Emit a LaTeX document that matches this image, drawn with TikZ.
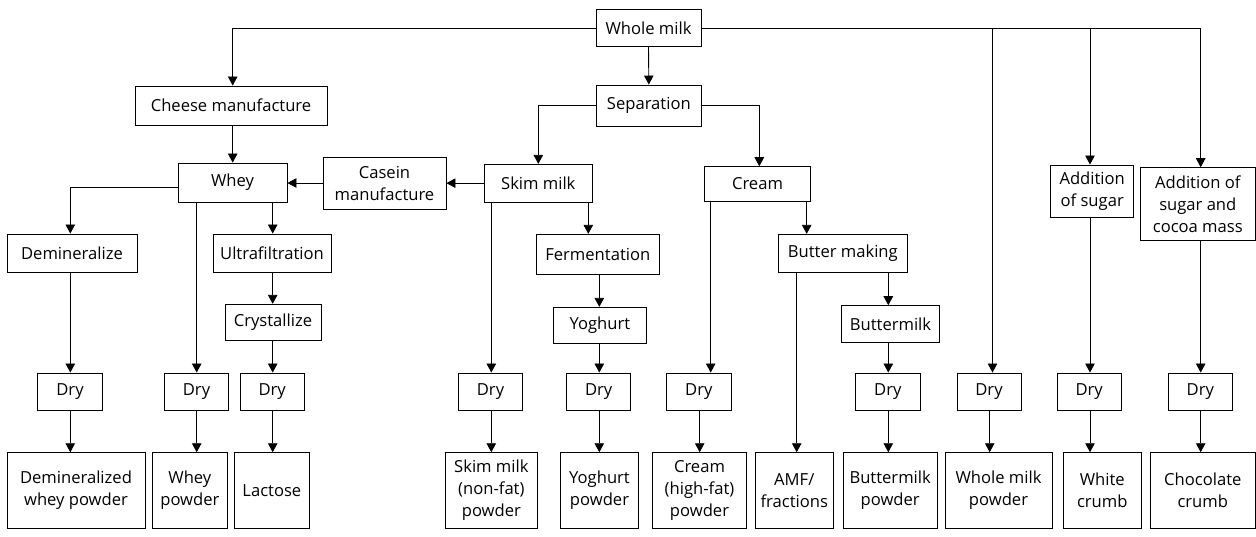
\documentclass[tikz,border=0pt]{standalone}
\usepackage{fontspec}
\setmainfont{Open Sans}
\usetikzlibrary{arrows.meta}
\newcommand\bx[6]{\node[box, minimum width={#4-#2}, minimum height={#5-#3}] (#1) at ({(#2+#4)/2},{(#3+#5)/2}) {#6};}
\begin{document}
\begin{tikzpicture}[x=1pt,y=-1pt,
  box/.style={draw, line width=0.9pt, inner sep=0pt, align=center, font=\fontsize{16.6}{22}\selectfont},
  arr/.style={line width=0.9pt, -{Triangle[width=9.5pt,length=9pt]}},
  ln/.style={line width=0.9pt}]
\useasboundingbox (0,0) rectangle (1256,537);
% column coordinates
\coordinate (kCh) at (232.7,0);
\coordinate (kDm) at (70.3,0);
\coordinate (kWp) at (196.7,0);
\coordinate (kUf) at (272.7,0);
\coordinate (kCr) at (759.3,0);
\coordinate (kSd) at (491.3,0);
\coordinate (kFe) at (588.3,0);
\coordinate (kYo) at (599.3,0);
\coordinate (kCd) at (710.7,0);
\coordinate (kCo) at (699.7,0);
\coordinate (kBm) at (806.7,0);
\coordinate (kAm) at (796.7,0);
\coordinate (kBu) at (888.3,0);
\coordinate (kWm) at (992.5,0);
\coordinate (kWo) at (989.7,0);
\coordinate (kSu) at (1090,0);
\coordinate (kCc) at (1200.7,0);
\coordinate (wy) at (0,187.7);
% boxes
\bx{whole}{596}{9.3}{701}{46.7}{Whole milk}
\bx{cheese}{135}{86}{327}{125}{Cheese manufacture}
\bx{sep}{596}{85}{701.7}{126.7}{Separation}
\bx{whey}{178}{163}{287}{202}{Whey}
\bx{casein}{323}{157}{446}{209}{Casein\\manufacture}
\bx{skim}{484.3}{164.3}{592.3}{202}{Skim milk}
\bx{cream}{704.3}{166.7}{810.7}{201.3}{Cream}
\bx{sugar}{1050.7}{165}{1133.7}{217}{Addition\\of sugar}
\bx{cocoa}{1140.3}{167.7}{1255.3}{240}{Addition of\\sugar and\\cocoa mass}
\bx{demin}{7}{234}{137}{272.7}{Demineralize}
\bx{ultra}{213}{234}{331}{272.7}{Ultrafiltration}
\bx{ferm}{536.3}{234.3}{659.3}{274}{Fermentation}
\bx{butter}{778.3}{234.3}{907.3}{272.3}{Butter making}
\bx{cryst}{225}{304.3}{321}{340.7}{Crystallize}
\bx{yog}{553}{307.3}{646.7}{343.7}{Yoghurt}
\bx{bmilk}{841.7}{305.7}{939.3}{342}{Buttermilk}
% dry boxes
\bx{d1}{37.7}{373}{102.3}{410}{Dry}
\bx{d2}{164.3}{373}{228.7}{410}{Dry}
\bx{d3}{240}{373}{304.3}{410}{Dry}
\bx{d4}{458.3}{373}{522.7}{410}{Dry}
\bx{d5}{566.7}{373}{630.7}{410}{Dry}
\bx{d6}{666.7}{373}{731}{410}{Dry}
\bx{d7}{855.3}{373}{920.3}{410}{Dry}
\bx{d8}{957}{373}{1021}{410}{Dry}
\bx{d9}{1057}{373}{1121.3}{410}{Dry}
\bx{d10}{1168}{373}{1232.7}{410}{Dry}
% bottom boxes
\bx{b1}{7}{452.7}{145}{528}{Demineralized\\whey powder}
\bx{b2}{152}{452.7}{227.7}{528}{Whey\\powder}
\bx{b3}{234}{452.7}{309.7}{528}{Lactose}
\bx{b4}{445}{452.7}{537.7}{528}{Skim milk\\(non-fat)\\powder}
\bx{b5}{560.3}{452.7}{638.7}{528}{Yoghurt\\powder}
\bx{b6}{652.7}{452.7}{746.3}{528}{Cream\\(high-fat)\\powder}
\bx{b7}{755.3}{452.7}{833.3}{528}{AMF/\\fractions}
\bx{b8}{843}{452.7}{937.3}{528}{Buttermilk\\powder}
\bx{b9}{945}{452.7}{1052}{528}{Whole milk\\powder}
\bx{b10}{1063.3}{452.7}{1141.3}{528}{White\\crumb}
\bx{b11}{1150.3}{452.7}{1255.3}{528}{Chocolate\\crumb}
% connectors from whole milk
\draw[arr] (whole.west) -| (cheese.north -| kCh);
\draw[arr] (whole.south) -- (sep.north);
\draw[arr] (whole.east) -| (cocoa.north -| kCc);
\draw[arr] (whole.east -| kWm) -- (d8.north -| kWm);
\draw[arr] (whole.east -| kSu) -- (sugar.north -| kSu);
% cheese / whey branch
\draw[arr] (cheese.south -| kCh) -- (whey.north -| kCh);
\draw[arr] (casein.west) -- (whey.east |- casein.west);
\draw[arr] (whey.west |- wy) -| (demin.north -| kDm);
\draw[arr] (demin.south -| kDm) -- (d1.north -| kDm);
\draw[arr] (d1.south -| kDm) -- (b1.north -| kDm);
\draw[arr] (whey.south -| kWp) -- (d2.north -| kWp);
\draw[arr] (d2.south -| kWp) -- (b2.north -| kWp);
\draw[arr] (whey.south -| kUf) -- (ultra.north -| kUf);
\draw[arr] (ultra.south -| kUf) -- (cryst.north -| kUf);
\draw[arr] (cryst.south -| kUf) -- (d3.north -| kUf);
\draw[arr] (d3.south -| kUf) -- (b3.north -| kUf);
% separation
\draw[arr] (sep.west) -| (skim.north);
\draw[arr] (sep.east) -| (cream.north -| kCr);
\draw[arr] (skim.west) -- (casein.east |- skim.west);
\draw[arr] (skim.south -| kSd) -- (d4.north -| kSd);
\draw[arr] (d4.south -| kSd) -- (b4.north -| kSd);
\draw[arr] (skim.south -| kFe) -- (ferm.north -| kFe);
\draw[arr] (ferm.south -| kYo) -- (yog.north -| kYo);
\draw[arr] (yog.south -| kYo) -- (d5.north -| kYo);
\draw[arr] (d5.south -| kYo) -- (b5.north -| kYo);
% cream
\draw[arr] (cream.south -| kCd) -- (d6.north -| kCd);
\draw[arr] (d6.south -| kCo) -- (b6.north -| kCo);
\draw[arr] (cream.south -| kBm) -- (butter.north -| kBm);
\draw[arr] (butter.south -| kAm) -- (b7.north -| kAm);
\draw[arr] (butter.south -| kBu) -- (bmilk.north -| kBu);
\draw[arr] (bmilk.south -| kBu) -- (d7.north -| kBu);
\draw[arr] (d7.south -| kBu) -- (b8.north -| kBu);
% whole milk powder, crumbs
\draw[arr] (d8.south -| kWo) -- (b9.north -| kWo);
\draw[arr] (sugar.south -| kSu) -- (d9.north -| kSu);
\draw[arr] (d9.south -| kSu) -- (b10.north -| kSu);
\draw[arr] (cocoa.south -| kCc) -- (d10.north -| kCc);
\draw[arr] (d10.south -| kCc) -- (b11.north -| kCc);
\end{tikzpicture}
\end{document}
